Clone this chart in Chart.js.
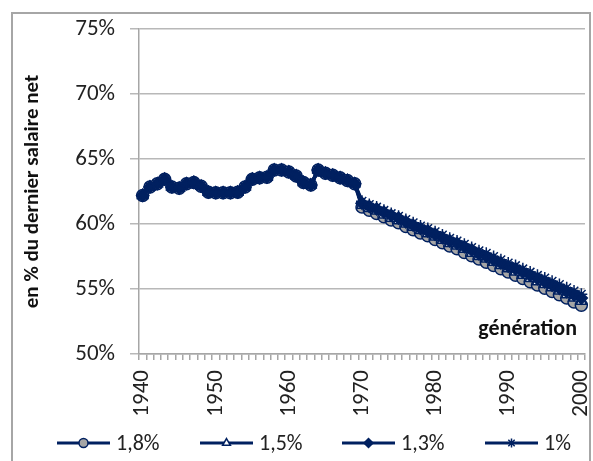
<!DOCTYPE html>
<html>
<head>
<meta charset="utf-8">
<script src="https://cdn.jsdelivr.net/npm/chart.js@4.4.1/dist/chart.umd.min.js"></script>
<style>
  html, body { margin: 0; padding: 0; background: #fff; overflow: hidden; }
  #wrap { position: relative; width: 593px; height: 461px; overflow: hidden; }
  #frame { position: absolute; left: 11px; top: 12px; width: 580px; height: 520px; border: 2px solid #a6a6a6; box-sizing: border-box; }
  #tauxChart { position: absolute; left: 0; top: 0; }
</style>
</head>
<body>
<div id="wrap">
  <div id="frame"></div>
  <!-- canvas un peu plus large : la marge réservée à droite pour le label 2000 sort de la fenêtre -->
  <canvas id="tauxChart" width="619" height="461"></canvas>
</div>
<script>
// générations 1940 à 2000
const generations = [
  1940, 1941, 1942, 1943, 1944, 1945, 1946, 1947, 1948, 1949,
  1950, 1951, 1952, 1953, 1954, 1955, 1956, 1957, 1958, 1959,
  1960, 1961, 1962, 1963, 1964, 1965, 1966, 1967, 1968, 1969,
  1970, 1971, 1972, 1973, 1974, 1975, 1976, 1977, 1978, 1979,
  1980, 1981, 1982, 1983, 1984, 1985, 1986, 1987, 1988, 1989,
  1990, 1991, 1992, 1993, 1994, 1995, 1996, 1997, 1998, 1999, 2000
];

// taux de remplacement identique pour les quatre hypothèses jusqu'en 1969
const tauxAvant1970 = [
  62.2, 62.85, 63.1, 63.45, 62.85, 62.75, 63.1, 63.2, 62.9, 62.45,
  62.4, 62.4, 62.4, 62.45, 62.85, 63.45, 63.55, 63.6, 64.15, 64.15,
  64.0, 63.7, 63.2, 63.0, 64.15, 63.9, 63.75, 63.55, 63.35, 63.1
];

// à partir de 1970, selon l'hypothèse de croissance
const taux18 = [
  61.3, 61.05, 60.8, 60.55, 60.3, 60.1, 59.8, 59.55, 59.3, 59.1,
  58.8, 58.55, 58.3, 58.1, 57.8, 57.55, 57.3, 57.05, 56.8, 56.55,
  56.3, 56.05, 55.8, 55.55, 55.3, 55.05, 54.8, 54.55, 54.3, 54.0, 53.75
];
const taux15 = [
  61.45, 61.2, 61.0, 60.7, 60.45, 60.25, 60.0, 59.75, 59.5, 59.25,
  59.0, 58.75, 58.5, 58.3, 58.05, 57.75, 57.5, 57.3, 57.05, 56.8,
  56.55, 56.3, 56.05, 55.8, 55.55, 55.35, 55.1, 54.85, 54.55, 54.3, 54.05
];
const taux13 = [
  61.6, 61.35, 61.15, 60.9, 60.65, 60.45, 60.15, 59.9, 59.65, 59.45,
  59.2, 58.95, 58.7, 58.5, 58.25, 58.0, 57.7, 57.5, 57.25, 57.0,
  56.75, 56.55, 56.3, 56.05, 55.8, 55.55, 55.3, 55.05, 54.8, 54.55, 54.3
];
const taux10 = [
  61.75, 61.5, 61.3, 61.05, 60.8, 60.6, 60.35, 60.1, 59.85, 59.65,
  59.4, 59.15, 58.9, 58.7, 58.45, 58.2, 57.95, 57.75, 57.5, 57.25,
  57.0, 56.8, 56.55, 56.3, 56.05, 55.85, 55.6, 55.35, 55.1, 54.85, 54.6
];

const yTicks = [50, 55, 60, 65, 70, 75];

const BLEU = '#002060';
const FONT = 'Carlito, Lato, sans-serif';

function serie(label, after, style, fill, order) {
  return {
    label: label,
    data: tauxAvant1970.concat(after),
    borderColor: BLEU,
    borderWidth: 3.5,
    pointStyle: style,
    pointRadius: 6,
    pointBorderWidth: 1.5,
    pointBackgroundColor: fill,
    pointBorderColor: BLEU,
    tension: 0,
    order: order
  };
}

// légende dessinée à la main : trait + marqueur + libellé
const legendeLigne = {
  id: 'legendeLigne',
  afterDraw(chart) {
    const ctx = chart.ctx;
    const starts = [57, 200, 342, 485];
    const y = 443;
    chart.data.datasets.forEach((ds, i) => {
      const x0 = starts[i];
      ctx.save();
      ctx.strokeStyle = ds.borderColor;
      ctx.lineWidth = 3;
      ctx.beginPath();
      ctx.moveTo(x0, y);
      ctx.lineTo(x0 + 53, y);
      ctx.stroke();
      ctx.fillStyle = ds.pointBackgroundColor;
      ctx.strokeStyle = ds.pointBorderColor;
      ctx.lineWidth = 1.5;
      Chart.helpers.drawPoint(ctx, { pointStyle: ds.pointStyle, radius: 4.5, borderWidth: 1.5, rotation: 0 }, x0 + 26.5, y);
      ctx.fillStyle = '#222';
      ctx.font = '22px ' + FONT;
      ctx.textAlign = 'left';
      ctx.textBaseline = 'middle';
      ctx.fillText(ds.label, x0 + 59, y + 1);
      ctx.restore();
    });
  }
};

// libellé "génération" dans le coin bas droit du graphique
const libelleGeneration = {
  id: 'libelleGeneration',
  afterDraw(chart) {
    const ctx = chart.ctx;
    ctx.save();
    ctx.fillStyle = '#111';
    ctx.font = 'bold 22px ' + FONT;
    ctx.textAlign = 'right';
    ctx.textBaseline = 'alphabetic';
    ctx.fillText('génération', 577, 335);
    ctx.restore();
  }
};

document.addEventListener('DOMContentLoaded', function () {
  const ctx = document.getElementById('tauxChart');
  new Chart(ctx, {
    type: 'line',
    data: {
      labels: generations,
      datasets: [
        serie('1,8%', taux18, 'circle', '#a5a5a5', 4),
        serie('1,5%', taux15, 'triangle', '#ffffff', 3),
        serie('1,3%', taux13, 'rectRot', BLEU, 2),
        serie('1%', taux10, 'star', BLEU, 1)
      ]
    },
    options: {
      responsive: false,
      animation: false,
      devicePixelRatio: 1,
      layout: { padding: { left: 0, top: 29, right: 5, bottom: 0 } },
      plugins: {
        legend: { display: false },
        tooltip: { enabled: false }
      },
      scales: {
        x: {
          type: 'category',
          offset: true,
          afterFit: s => { s.height = 107; },
          grid: { drawOnChartArea: false, drawTicks: true, tickLength: 6, color: '#a6a6a6', lineWidth: 1.5, offset: true },
          border: { color: '#a6a6a6', width: 1.5 },
          ticks: {
            autoSkip: false,
            minRotation: 90,
            maxRotation: 90,
            padding: 10,
            color: '#222',
            font: { family: FONT, size: 23 },
            callback: function (val, idx) {
              const g = generations[idx];
              return g % 10 === 0 ? String(g) : '';
            }
          }
        },
        y: {
          min: yTicks[0],
          max: yTicks[yTicks.length - 1],
          afterFit: s => { s.width = 139; },
          afterBuildTicks: s => { s.ticks = yTicks.map(v => ({ value: v })); },
          grid: { color: '#b8b8b8', lineWidth: 1.5, tickLength: 9 },
          border: { color: '#a6a6a6', width: 1.5 },
          ticks: {
            padding: 15,
            color: '#222',
            font: { family: FONT, size: 23 },
            callback: v => v + '%'
          },
          title: {
            display: true,
            text: 'en % du dernier salaire net',
            color: '#111',
            font: { family: FONT, size: 21, weight: 'bold' },
            padding: { top: 20, bottom: 0 }
          }
        }
      }
    },
    plugins: [legendeLigne, libelleGeneration]
  });
});
</script>
</body>
</html>
